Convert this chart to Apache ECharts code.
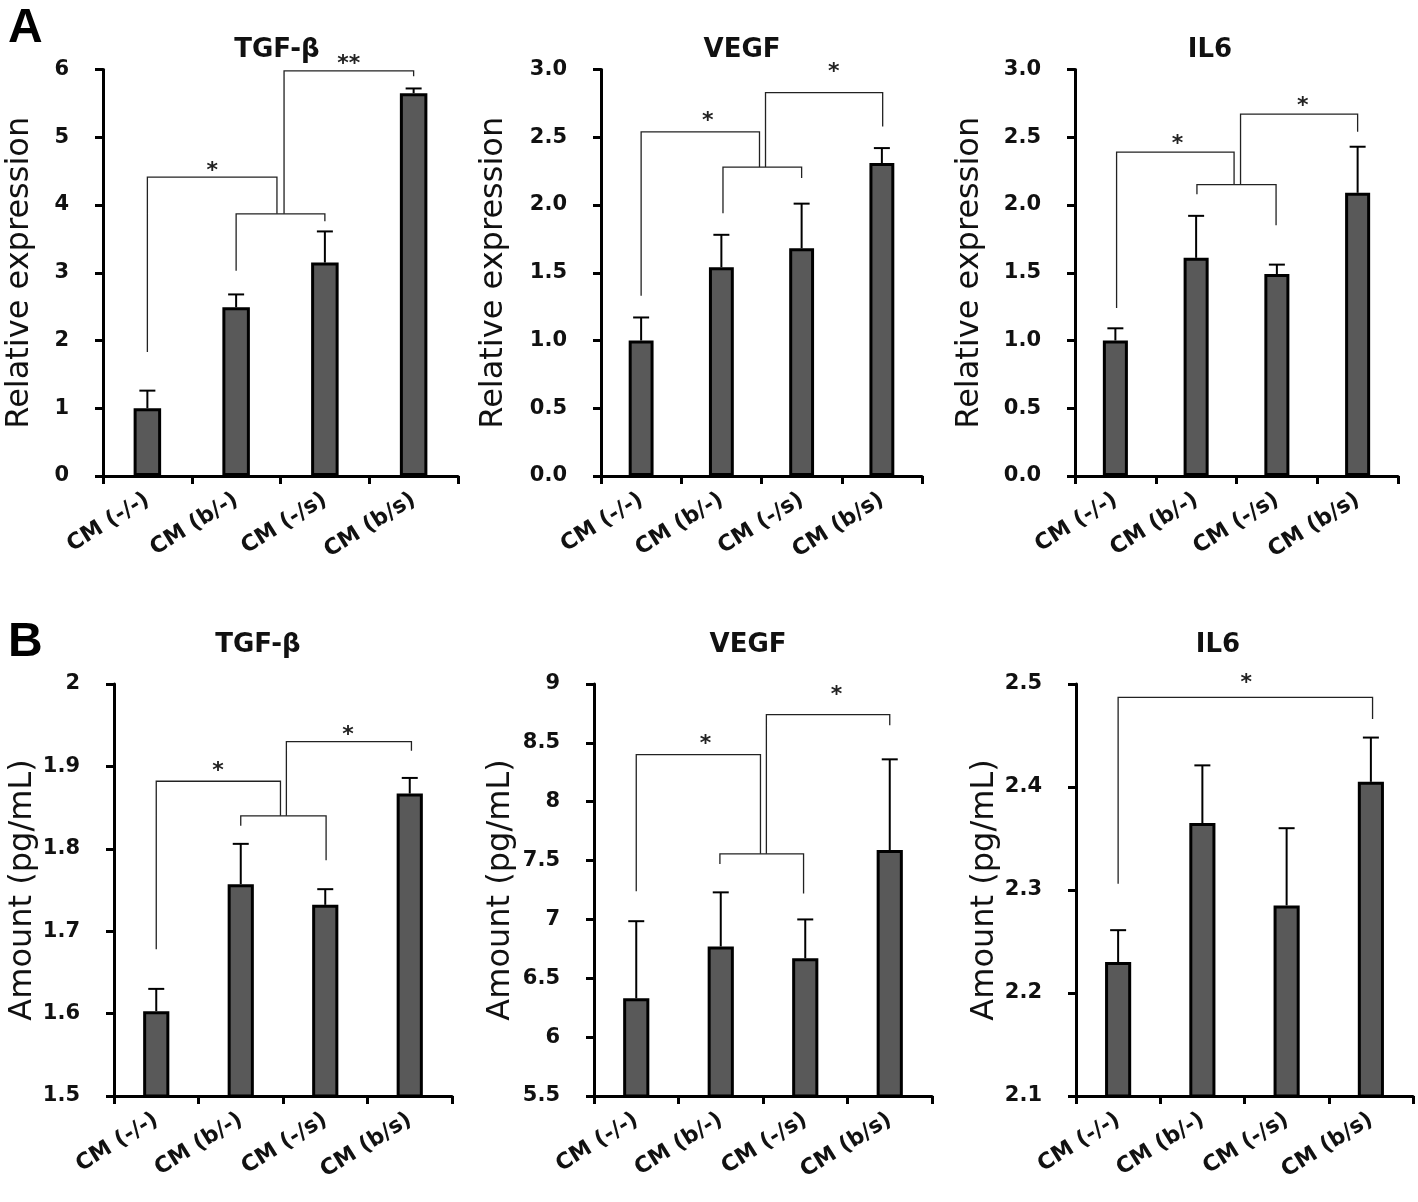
<!DOCTYPE html>
<html>
<head>
<meta charset="utf-8">
<script src="https://cdn.jsdelivr.net/npm/echarts@6/dist/echarts.min.js"></script>
<style>
html,body{margin:0;padding:0;background:#fff;}
#chart{width:1418px;height:1202px;}
</style>
</head>
<body>
<div id="chart"></div>
<script>
// ---------- data ----------
const categories = ['CM (-/-)', 'CM (b/-)', 'CM (-/s)', 'CM (b/s)'];

// Panel A: relative expression (mean, upper error end)
const aTgfMean = [1.0, 2.49, 3.15, 5.65];
const aTgfErr  = [1.26, 2.68, 3.61, 5.72];
const aVegfMean = [1.0, 1.54, 1.68, 2.31];
const aVegfErr  = [1.17, 1.78, 2.01, 2.42];
const aIl6Mean = [1.0, 1.61, 1.49, 2.09];
const aIl6Err  = [1.09, 1.92, 1.56, 2.43];

// Panel B: amount (pg/mL)
const bTgfMean = [1.603, 1.757, 1.732, 1.867];
const bTgfErr  = [1.630, 1.806, 1.751, 1.886];
const bVegfMean = [6.33, 6.77, 6.67, 7.59];
const bVegfErr  = [6.985, 7.23, 7.0, 8.36];
const bIl6Mean = [2.230, 2.365, 2.285, 2.405];
const bIl6Err  = [2.261, 2.421, 2.360, 2.448];

// significance brackets: [xLeft, yLeftEnd, xRight, yRightEnd, yTop] (x in category index units)
const aTgfBrackets = [[0, 1.83, 1.46, 3.87, 4.41], [1, 3.03, 2, 3.76, 3.87], [1.54, 3.87, 3, 5.9, 5.98]];
const aVegfBrackets = [[0, 1.33, 1.475, 2.28, 2.54], [1.02, 1.94, 2, 2.2, 2.28], [1.55, 2.28, 3.01, 2.58, 2.83]];
const aIl6Brackets = [[0.015, 1.24, 1.47, 2.15, 2.39], [1.01, 2.08, 1.99, 1.85, 2.15], [1.55, 2.15, 3, 2.54, 2.67]];
const bTgfBrackets = [[0, 1.678, 1.47, 1.840, 1.882], [1, 1.828, 2.01, 1.786, 1.840], [1.54, 1.840, 3.02, 1.919, 1.930]];
const bVegfBrackets = [[0, 7.24, 1.47, 7.557, 8.40], [0.99, 7.47, 1.98, 7.22, 7.557], [1.54, 7.557, 3.0, 8.65, 8.74]];
const bIl6Brackets = [[0, 2.306, 3.02, 2.466, 2.487]];

// significance labels: [x, y, text]
const aTgfStars = [[0.73, 4.55, '*'], [2.27, 6.13, '**']];
const aVegfStars = [[0.83, 2.65, '*'], [2.4, 3.01, '*']];
const aIl6Stars = [[0.77, 2.48, '*'], [2.32, 2.76, '*']];
const bTgfStars = [[0.73, 1.899, '*'], [2.27, 1.943, '*']];
const bVegfStars = [[0.82, 8.52, '*'], [2.37, 8.94, '*']];
const bIl6Stars = [[1.52, 2.505, '*']];

// axis ranges
const aTgfAxis = {min: 0, max: 6, interval: 1, dec: 0};
const aVegfAxis = {min: 0, max: 3, interval: 0.5, dec: 1};
const aIl6Axis = {min: 0, max: 3, interval: 0.5, dec: 1};
const bTgfAxis = {min: 1.5, max: 2, interval: 0.1, dec: -1};
const bVegfAxis = {min: 5.5, max: 9, interval: 0.5, dec: -1};
const bIl6Axis = {min: 2.1, max: 2.5, interval: 0.1, dec: -1};

const titles = ['TGF-β', 'VEGF', 'IL6', 'TGF-β', 'VEGF', 'IL6'];
const yNames = ['Relative expression', 'Relative expression', 'Relative expression',
                'Amount (pg/mL)', 'Amount (pg/mL)', 'Amount (pg/mL)'];

// ---------- layout ----------
const panels = [
  {grid: {left: 103, top: 69.5, width: 355, height: 406.5}, titleX: 272, titleY: 45, nameGap: 67, mean: aTgfMean, err: aTgfErr, br: aTgfBrackets, st: aTgfStars, ax: aTgfAxis},
  {grid: {left: 601, top: 69.5, width: 321, height: 406.5}, titleX: 737, titleY: 45, nameGap: 91, mean: aVegfMean, err: aVegfErr, br: aVegfBrackets, st: aVegfStars, ax: aVegfAxis},
  {grid: {left: 1075, top: 69.5, width: 323, height: 406.5}, titleX: 1205, titleY: 45, nameGap: 89, mean: aIl6Mean, err: aIl6Err, br: aIl6Brackets, st: aIl6Stars, ax: aIl6Axis},
  {grid: {left: 114, top: 684, width: 338, height: 412}, titleX: 253, titleY: 640, nameGap: 73, mean: bTgfMean, err: bTgfErr, br: bTgfBrackets, st: bTgfStars, ax: bTgfAxis},
  {grid: {left: 594, top: 684, width: 338, height: 412}, titleX: 743, titleY: 640, nameGap: 77, mean: bVegfMean, err: bVegfErr, br: bVegfBrackets, st: bVegfStars, ax: bVegfAxis},
  {grid: {left: 1076, top: 684, width: 337, height: 412}, titleX: 1213, titleY: 640, nameGap: 73, mean: bIl6Mean, err: bIl6Err, br: bIl6Brackets, st: bIl6Stars, ax: bIl6Axis}
];

const chart = echarts.init(document.getElementById('chart'), null, {renderer: 'canvas'});

const grid = [], xAxis = [], yAxis = [], series = [], title = [];
const tickFont = {fontFamily: 'DejaVu Sans', fontWeight: 'bold', fontSize: 21, color: '#111'};

panels.forEach((p, k) => {
  grid.push(p.grid);
  title.push({
    text: titles[k], left: p.titleX, top: p.titleY, textAlign: 'center', textVerticalAlign: 'middle',
    textStyle: {fontFamily: 'DejaVu Sans', fontWeight: 'bold', fontSize: 26, color: '#111'}
  });
  // category axis
  xAxis.push({
    type: 'category', gridIndex: k, data: categories, boundaryGap: true,
    axisLine: {onZero: false, lineStyle: {color: '#000', width: 3}},
    axisTick: {show: true, length: 8, lineStyle: {color: '#000', width: 3}},
    axisLabel: {rotate: 32, margin: 22, interval: 0, fontFamily: 'DejaVu Sans', fontWeight: 'bold', fontSize: 22, color: '#111'},
    splitLine: {show: false}
  });
  // hidden value axis for annotations
  xAxis.push({type: 'value', gridIndex: k, min: -0.5, max: 3.5, show: false, axisLine: {onZero: false}});
  const ax = p.ax;
  yAxis.push({
    type: 'value', gridIndex: k, min: ax.min, max: ax.max, interval: ax.interval,
    name: yNames[k], nameLocation: 'middle', nameGap: p.nameGap, nameRotate: 90,
    nameTextStyle: {fontFamily: 'DejaVu Sans', fontSize: 32, color: '#111'},
    axisLine: {show: true, onZero: false, lineStyle: {color: '#000', width: 3}},
    axisTick: {show: true, length: 8, lineStyle: {color: '#000', width: 3}},
    axisLabel: Object.assign({margin: 34, formatter: v => ax.dec >= 0 ? v.toFixed(ax.dec) : String(+v.toFixed(2))}, tickFont),
    splitLine: {show: false}
  });
  const xCat = 2 * k, xVal = 2 * k + 1;
  // error bars (below bars)
  series.push({
    type: 'custom', xAxisIndex: xCat, yAxisIndex: k, z: 2,
    data: p.mean.map((m, i) => [i, m, p.err[i]]),
    encode: {x: 0, y: [1, 2]},
    renderItem: function (params, api) {
      const a = api.coord([api.value(0), api.value(1)]);
      const b = api.coord([api.value(0), api.value(2)]);
      const st = {stroke: '#000', lineWidth: 2};
      return {type: 'group', children: [
        {type: 'line', shape: {x1: a[0], y1: a[1], x2: b[0], y2: b[1]}, style: st},
        {type: 'line', shape: {x1: b[0] - 8, y1: b[1], x2: b[0] + 8, y2: b[1]}, style: st}
      ]};
    }
  });
  // bars
  series.push({
    type: 'bar', xAxisIndex: xCat, yAxisIndex: k, z: 3, barWidth: '31%',
    data: p.mean,
    itemStyle: {color: '#595959', borderColor: '#000', borderWidth: 3},
    silent: true
  });
  // brackets
  series.push({
    type: 'custom', xAxisIndex: xVal, yAxisIndex: k, z: 4,
    data: p.br,
    encode: {x: [0, 2], y: [1, 3, 4]},
    renderItem: function (params, api) {
      const p1 = api.coord([api.value(0), api.value(1)]);
      const p2 = api.coord([api.value(0), api.value(4)]);
      const p3 = api.coord([api.value(2), api.value(4)]);
      const p4 = api.coord([api.value(2), api.value(3)]);
      return {type: 'polyline', shape: {points: [p1, p2, p3, p4]}, style: {stroke: '#222', lineWidth: 1.3, fill: null}};
    }
  });
  // stars
  const stars = p.st;
  series.push({
    type: 'custom', xAxisIndex: xVal, yAxisIndex: k, z: 4,
    data: stars.map(s => [s[0], s[1]]),
    encode: {x: 0, y: 1},
    renderItem: function (params, api) {
      const c = api.coord([api.value(0), api.value(1)]);
      return {type: 'text', x: c[0], y: c[1] + 4, style: {text: stars[params.dataIndex][2], fontFamily: 'DejaVu Sans', fontWeight: 'bold', fontSize: 22, fill: '#222', align: 'center', verticalAlign: 'middle'}};
    }
  });
});

title.push({text: 'A', left: 3, top: 0, textStyle: {fontFamily: 'Liberation Sans', fontWeight: 'bold', fontSize: 48, color: '#000'}});
title.push({text: 'B', left: 3, top: 614, textStyle: {fontFamily: 'Liberation Sans', fontWeight: 'bold', fontSize: 48, color: '#000'}});

chart.setOption({animation: false, backgroundColor: '#fff', title, grid, xAxis, yAxis, series});
</script>
</body>
</html>
